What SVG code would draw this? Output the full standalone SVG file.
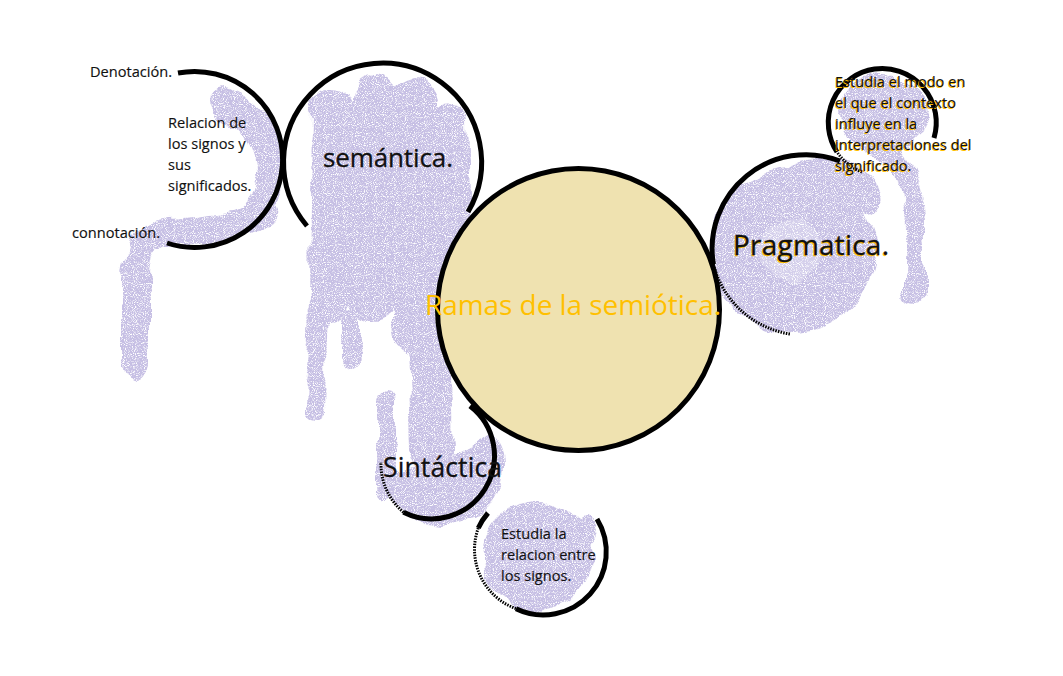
<svg xmlns="http://www.w3.org/2000/svg" width="1063" height="676" viewBox="0 0 1063 676">
<defs>
<style>
.paint{stroke:#C6BFE4;fill:none;stroke-linecap:round;stroke-linejoin:round}
.pf{fill:#C6BFE4;stroke:none}
.arc{fill:none;stroke:#000;stroke-width:5}
.sk{fill:none;stroke:#000;stroke-width:3;stroke-dasharray:1.5 1.2}
.sm{font-family:"Open Sans","Noto Sans",sans-serif;font-size:14.6px;fill:#111;stroke:#111;stroke-width:0.15}
.big{font-family:"Open Sans","Noto Sans",sans-serif;fill:#111;stroke:#111;stroke-width:0.3}
.sh{fill:#FFC000;stroke:#FFC000}
</style>
<filter id="spray" filterUnits="userSpaceOnUse" x="0" y="0" width="1063" height="676">
<feTurbulence type="fractalNoise" baseFrequency="0.035" numOctaves="2" seed="4" result="warp"/>
<feDisplacementMap in="SourceGraphic" in2="warp" scale="16" xChannelSelector="R" yChannelSelector="G" result="d"/>
<feTurbulence type="fractalNoise" baseFrequency="1.1" numOctaves="1" seed="7" result="grain"/>
<feColorMatrix in="grain" type="matrix" values="0 0 0 0 0  0 0 0 0 0  0 0 0 0 0  0 0 0 -4.5 3.2" result="mask"/>
<feComposite in="d" in2="mask" operator="in"/>
</filter>
</defs>
<rect width="1063" height="676" fill="#fff"/>

<g id="paint" filter="url(#spray)">
<!-- left (denotacion) -->
<path class="paint" stroke-width="26" d="M225,100 C255,112 272,145 270,180 C268,205 255,222 225,228 L170,232 C145,236 135,250 135,280 L135,365"/>
<path class="paint" stroke-width="28" d="M265,212 C240,232 200,228 160,236"/>
<ellipse class="pf" cx="232" cy="112" rx="18" ry="14"/>
<!-- semantica mass -->
<path class="paint" stroke-width="40" d="M332,108 L330,300"/>
<path class="paint" stroke-width="46" d="M375,100 L372,300"/>
<path class="paint" stroke-width="46" d="M415,100 L415,330"/>
<path class="paint" stroke-width="36" d="M450,120 L455,330"/>
<path class="paint" stroke-width="20" d="M318,300 L315,410"/>
<path class="paint" stroke-width="18" d="M350,320 L350,362"/>
<path class="paint" stroke-width="18" d="M386,398 L386,495"/>
<path class="paint" stroke-width="40" d="M428,300 L432,450"/>
<!-- sintactica -->
<path class="pf" d="M383,462 C383,500 410,527 444,527 C480,527 506,500 506,464 C506,450 500,440 492,432 L470,445 L440,460 L400,470 Z"/>
<!-- bottom circle -->
<circle class="pf" cx="537" cy="556" r="55"/>
<ellipse class="pf" cx="585" cy="530" rx="12" ry="14"/>
<!-- pragmatica -->
<circle class="paint" stroke-width="50" cx="793" cy="250" r="58"/>
<circle class="pf" cx="793" cy="250" r="36" opacity="0.75"/>
<path class="paint" stroke-width="25" d="M800,170 C840,165 862,178 868,200"/>
<ellipse class="pf" cx="882" cy="113" rx="44" ry="40"/>
<path class="paint" stroke-width="20" d="M885,148 C908,162 915,190 915,230 L915,292"/>
</g>

<g id="node-central">
<circle cx="578.5" cy="309.5" r="141" fill="#EFE2B0" stroke="#000" stroke-width="5"/>
<text x="425" y="315" font-family="'Open Sans','Noto Sans',sans-serif" font-size="28" fill="#FFC000" textLength="296">Ramas de la semiótica.</text>
</g>

<g id="node-denotacion">
<path class="arc" d="M178,73 A88 88 0 1 1 167,243"/>
<text class="sm" x="90" y="77">Denotación.</text>
<text class="sm" x="168" y="128">Relacion de</text>
<text class="sm" x="168" y="149">los signos y</text>
<text class="sm" x="168" y="170">sus</text>
<text class="sm" x="168" y="191">significados.</text>
<text class="sm" x="72" y="238">connotación.</text>
</g>

<g id="node-semantica">
<path class="arc" d="M307,226 A99 99 0 1 1 468,212"/>
<text class="big" x="323" y="167" font-size="26" textLength="130">semántica.</text>
</g>

<g id="node-pragmatica">
<path class="arc" d="M840,161 A94 94 0 0 0 713.4,264.3"/>
<path class="sk" d="M713.4,264.3 A94 94 0 0 0 790,334"/>
<text class="big sh" x="732.4" y="255.6" font-size="28" textLength="156">Pragmatica.</text>
<text class="big" x="733" y="255" font-size="28" textLength="156">Pragmatica.</text>
</g>

<g id="node-pragmatica-desc">
<path class="arc" d="M837,152 A54 54 0 1 1 934,138"/>
<path class="sk" d="M862,172 A54 54 0 0 1 837,152"/>
<g class="sm sh" transform="translate(-0.6,0.6)">
<text x="835" y="87">Estudia el modo en</text>
<text x="835" y="108">el que el contexto</text>
<text x="835" y="129">influye en la</text>
<text x="835" y="150">interpretaciones del</text>
<text x="835" y="171">significado.</text>
</g>
<text class="sm" x="835" y="87">Estudia el modo en</text>
<text class="sm" x="835" y="108">el que el contexto</text>
<text class="sm" x="835" y="129">influye en la</text>
<text class="sm" x="835" y="150">interpretaciones del</text>
<text class="sm" x="835" y="171">significado.</text>
</g>

<g id="node-sintactica">
<path class="arc" d="M470,406 A63 63 0 0 1 403.5,512.3"/>
<path class="sk" d="M403.5,512.3 A63 63 0 0 1 381,462"/>
<text class="big" x="383" y="477" font-size="26.5" textLength="119">Sintáctica</text>
</g>

<g id="node-sintactica-desc">
<path class="arc" d="M488,513 A63 63 0 0 0 478.3,528"/>
<path class="sk" d="M478.3,528 A63 63 0 0 0 516,608.7"/>
<path class="arc" d="M516,608.7 A63 63 0 0 0 597,519"/>
<text class="sm" x="501" y="539">Estudia la</text>
<text class="sm" x="501" y="560">relacion entre</text>
<text class="sm" x="501" y="581">los signos.</text>
</g>

<g id="connectors"/>
</svg>
